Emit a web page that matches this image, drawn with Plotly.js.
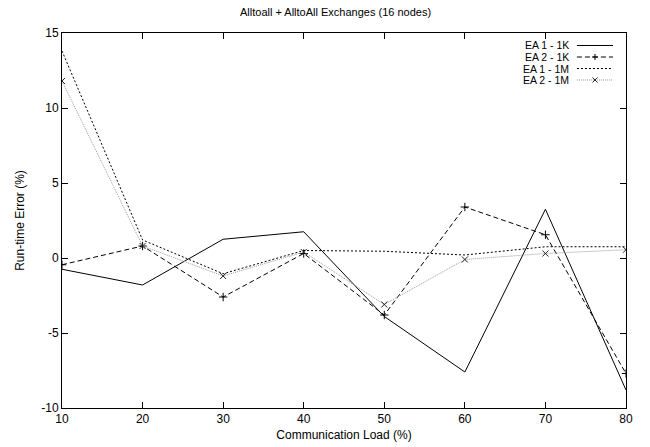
<!DOCTYPE html>
<html>
<head>
<meta charset="utf-8">
<script src="https://cdn.plot.ly/plotly-3.0.1.min.js"></script>
<style>html,body{margin:0;padding:0;background:#fff}#chart{width:650px;height:447px}</style>
</head>
<body>
<div id="chart"></div>
<script>
var loads = [10, 20, 30, 40, 50, 60, 70, 80];
var seriesNames = ["EA 1 - 1K", "EA 2 - 1K", "EA 1 - 1M", "EA 2 - 1M"];
var ea1_1k = [-0.75, -1.8, 1.25, 1.75, -3.9, -7.6, 3.25, -8.8];
var ea2_1k = [-0.45, 0.8, -2.6, 0.3, -3.8, 3.4, 1.55, -7.7];
var ea1_1m = [13.8, 1.2, -1.05, 0.5, 0.45, 0.2, 0.75, 0.75];
var ea2_1m = [11.8, 0.8, -1.2, 0.4, -3.1, -0.1, 0.3, 0.55];
var yTicks = [-10, -5, 0, 5, 10, 15];
var xTicks = [10, 20, 30, 40, 50, 60, 70, 80];

var FONT = "Liberation Sans, Arial, Helvetica, sans-serif";
var DASH = "5px,3px", DOT = "2px,2px", FINEDOT = "1px,1px";

var traces = [
  {x: loads, y: ea1_1k, name: seriesNames[0], mode: "lines",
   line: {color: "#000", width: 1, dash: "solid"}},
  {x: loads, y: ea2_1k, name: seriesNames[1], mode: "lines+markers",
   line: {color: "#000", width: 1, dash: DASH},
   marker: {symbol: "cross-thin-open", size: 6, color: "#000", line: {color: "#000", width: 1}}},
  {x: loads, y: ea1_1m, name: seriesNames[2], mode: "lines",
   line: {color: "#000", width: 1, dash: DOT}},
  {x: loads, y: ea2_1m, name: seriesNames[3], mode: "lines+markers",
   line: {color: "#999", width: 1, dash: FINEDOT},
   marker: {symbol: "x-thin-open", size: 6, color: "#222", line: {color: "#222", width: 1}}}
];

// manual legend (text on the left, sample on the right, as in the original)
var rowY = [0.9667, 0.936, 0.9053, 0.8747];
var textX = 0.901, s0 = 0.913, s1 = 0.977, sc = (s0 + s1) / 2;
var dashes = ["solid", DASH, DOT, FINEDOT];
var colors = ["#000", "#000", "#000", "#999"];
var annotations = [], shapes = [];
seriesNames.forEach(function (n, i) {
  annotations.push({xref: "paper", yref: "paper", x: textX, y: rowY[i], text: n,
    showarrow: false, xanchor: "right", yanchor: "middle", borderpad: 0,
    font: {family: FONT, size: 10.5, color: "#000"}});
  shapes.push({type: "line", xref: "paper", yref: "paper", x0: s0, x1: s1, y0: rowY[i], y1: rowY[i],
    line: {color: colors[i], width: 1, dash: dashes[i]}});
});
shapes.push({type: "path", xref: "paper", yref: "paper", xsizemode: "pixel", ysizemode: "pixel",
  xanchor: sc, yanchor: rowY[1], path: "M-3,0H3M0,-3V3", line: {color: "#000", width: 1}});
shapes.push({type: "path", xref: "paper", yref: "paper", xsizemode: "pixel", ysizemode: "pixel",
  xanchor: sc, yanchor: rowY[3], path: "M-2.5,-2.5L2.5,2.5M-2.5,2.5L2.5,-2.5", line: {color: "#222", width: 1}});

var axisCommon = {
  showline: true, linecolor: "#000", linewidth: 1, mirror: "ticks",
  ticks: "inside", ticklen: 6, tickwidth: 1, tickcolor: "#000",
  showgrid: false, zeroline: false,
  tickfont: {family: FONT, size: 12, color: "#000"}
};

var layout = {
  width: 650, height: 447,
  margin: {l: 62, r: 24, t: 33, b: 39, pad: 0},
  paper_bgcolor: "#fff", plot_bgcolor: "#fff",
  showlegend: false,
  title: {text: "Alltoall + AlltoAll Exchanges (16 nodes)", x: 0.485, xref: "paper", y: 0.972, yref: "container",
    xanchor: "center", yanchor: "middle", font: {family: FONT, size: 11, color: "#000"}},
  xaxis: Object.assign({}, axisCommon, {range: [10, 80], tickvals: xTicks, ticktext: xTicks.map(String),
    title: {text: "Communication Load (%)", standoff: 5, font: {family: FONT, size: 12, color: "#000"}}}),
  yaxis: Object.assign({}, axisCommon, {range: [-10, 15], tickvals: yTicks, ticktext: yTicks.map(String),
    title: {text: "Run-time Error (%)", standoff: 14, font: {family: FONT, size: 12, color: "#000"}}}),
  annotations: annotations,
  shapes: shapes
};

Plotly.newPlot("chart", traces, layout, {staticPlot: true, displayModeBar: false});
</script>
</body>
</html>
